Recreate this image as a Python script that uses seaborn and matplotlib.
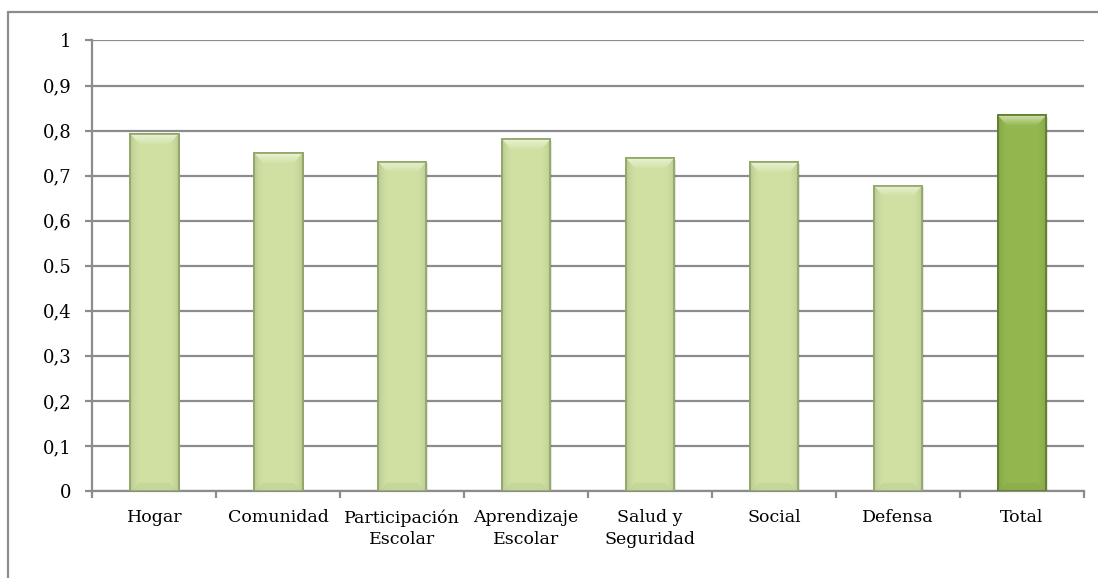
import numpy as np
import pandas as pd
import matplotlib
matplotlib.use("Agg")
import matplotlib.pyplot as plt
import seaborn as sns
from matplotlib.patches import Rectangle
from matplotlib.lines import Line2D

categories = ["Hogar", "Comunidad", "Participación\nEscolar", "Aprendizaje\nEscolar",
              "Salud y\nSeguridad", "Social", "Defensa", "Total"]
values = [0.793, 0.750, 0.731, 0.781, 0.739, 0.730, 0.678, 0.834]
ytick_values = [0, 0.1, 0.2, 0.3, 0.4, 0.5, 0.6, 0.7, 0.8, 0.9, 1.0]
ytick_labels = ["0", "0,1", "0,2", "0,3", "0,4", "0.5", "0,6", "0,7", "0,8", "0,9", "1"]

light_face = "#d0e1a3"
light_edge = "#8fa566"
total_face = "#94b84f"
total_edge = "#5f7a2e"

sns.set_theme(style="white")
plt.rcParams["font.family"] = ["DejaVu Serif"]

df = pd.DataFrame({"categoria": categories, "valor": values})
palette = [light_face] * (len(categories) - 1) + [total_face]

fig = plt.figure(figsize=(10.98, 5.78), dpi=100)
ax = fig.add_axes([0.0842, 0.1505, 0.9030, 0.7795])

sns.barplot(data=df, x="categoria", y="valor", hue="categoria", palette=palette,
            legend=False, width=0.39, ax=ax, zorder=3)

# bevelled look: darker rim, lighter top cap
for patch, col in zip(ax.patches, palette):
    edge = total_edge if col == total_face else light_edge
    patch.set_edgecolor(edge)
    patch.set_linewidth(1.2)
    x0, y0 = patch.get_x(), patch.get_y()
    w, h = patch.get_width(), patch.get_height()
    # soft drop shadow
    ax.add_patch(Rectangle((x0 + 0.012, y0 - 0.004), w, h, facecolor="#000000",
                           alpha=0.10, edgecolor="none", zorder=2))
    # horizontal shading gradient across the bar
    base = np.array(matplotlib.colors.to_rgb(col))
    xs = np.linspace(-1, 1, 64)
    shade = 1 - 0.12 * xs ** 6
    grad = np.clip(base[None, None, :] * shade[None, :, None], 0, 1)
    im = ax.imshow(grad, extent=(x0, x0 + w, y0, y0 + h), aspect="auto",
                   zorder=3.5, interpolation="bilinear")
    im.set_clip_path(patch)
    # light top bevel, fading downward
    cap = 0.024
    top = y0 + h
    inset = w * 0.2
    light = np.clip(base + (1 - base) * 0.55, 0, 1)
    vgrad = np.linspace(0, 1, 32)[:, None, None]
    cap_img = np.clip(light[None, None, :] * (1 - vgrad) + base[None, None, :] * vgrad, 0, 1)
    cap_img = np.repeat(cap_img, 4, axis=1)
    trap = plt.Polygon([[x0, top], [x0 + w, top], [x0 + w - inset, top - cap],
                        [x0 + inset, top - cap]], closed=True, facecolor="none",
                       edgecolor="none", transform=ax.transData)
    ax.add_patch(trap)
    cim = ax.imshow(cap_img, extent=(x0, x0 + w, top - cap, top), aspect="auto",
                    zorder=3.6, interpolation="bilinear")
    cim.set_clip_path(trap)
    # darker bottom bevel
    dark = base * 0.92
    ax.fill([x0, x0 + w, x0 + w - inset, x0 + inset],
            [y0, y0, y0 + 0.018, y0 + 0.018], color=dark, alpha=0.5, zorder=3.6, lw=0)
    ax.add_patch(Rectangle((x0, y0), w, h, facecolor="none", edgecolor=edge,
                           linewidth=1.2, zorder=3.8))

ax.set_ylim(0, 1)
ax.set_xlim(-0.5, len(categories) - 0.5)
ax.set_yticks(ytick_values)
ax.set_yticklabels(ytick_labels)
ax.yaxis.grid(True, color="#8c8c8c", linewidth=1.6, zorder=0)
ax.set_axisbelow(True)
ax.set_xlabel("")
ax.set_ylabel("")

for side in ["top", "right"]:
    ax.spines[side].set_visible(False)
for side in ["left", "bottom"]:
    ax.spines[side].set_color("#8c8c8c")
    ax.spines[side].set_linewidth(1.6)

ax.set_xticks(np.arange(len(categories)))
ax.set_xticklabels(categories)
ax.tick_params(axis="x", which="major", length=0, pad=13, labelsize=12.5, colors="black")
ax.set_xticks(np.arange(len(categories) + 1) - 0.5, minor=True)
ax.tick_params(axis="x", which="minor", length=5, width=1.6, color="#8c8c8c", direction="out")
ax.tick_params(axis="y", length=5, width=1.6, color="#8c8c8c", pad=10, labelsize=13, colors="black")
ax.yaxis.set_tick_params(left=True)
ax.xaxis.set_tick_params(which="minor", bottom=True)
for lbl in ax.get_xticklabels():
    lbl.set_linespacing(1.35)

# chart area frame
fig.add_artist(Line2D([8 / 1098, 1.0], [1 - 12 / 578] * 2, transform=fig.transFigure,
                      color="#8c8c8c", linewidth=1.6))
fig.add_artist(Line2D([8 / 1098] * 2, [0.0, 1 - 12 / 578], transform=fig.transFigure,
                      color="#8c8c8c", linewidth=1.6))

fig.savefig("out.png", dpi=100)
